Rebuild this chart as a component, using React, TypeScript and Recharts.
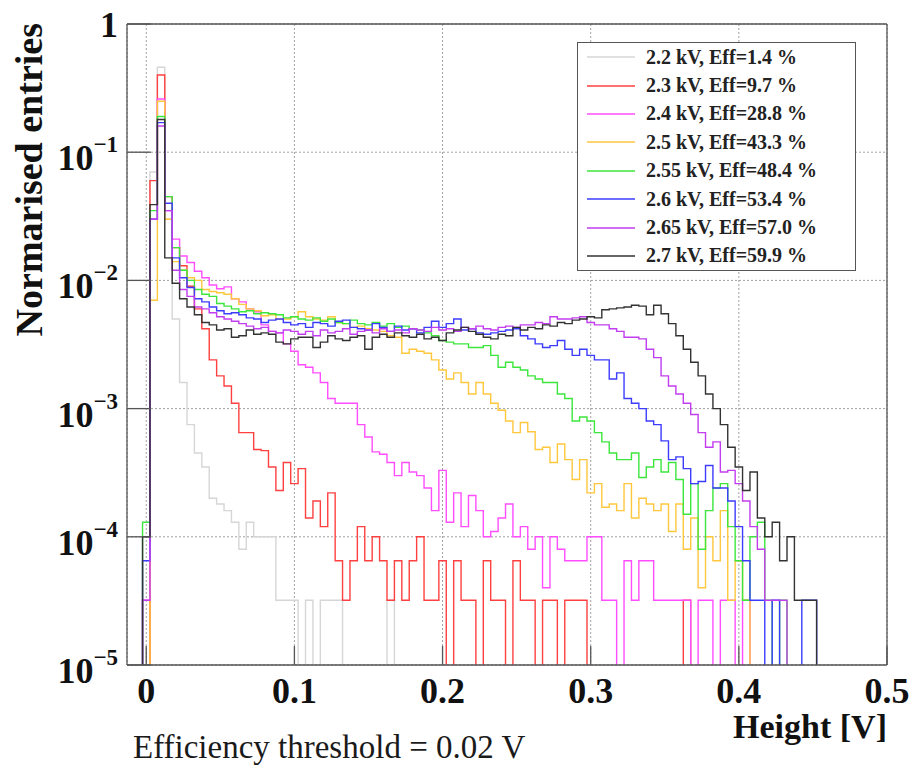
import React from 'react';
import { LineChart, Line, XAxis, YAxis, CartesianGrid } from 'recharts';

const W = 915;
const H = 766;
// two 1px axes on each side, so the plot box lands at 127..887 x 24..665
const MARGIN = { top: 22, right: 26, bottom: 99, left: 125 };
const FONT = "'Liberation Serif', 'Times New Roman', serif";

// histogram binning (bin 0 is centred on 0 V)
const BIN_W = 0.005;
const FIRST_EDGE = -0.0025;
const EMPTY = 1e-7; // empty bins fall below the log axis

const X_MAJOR = [0, 0.1, 0.2, 0.3, 0.4, 0.5];
const X_MINOR = [0.02, 0.04, 0.06, 0.08, 0.12, 0.14, 0.16, 0.18, 0.22, 0.24, 0.26, 0.28, 0.32, 0.34, 0.36, 0.38, 0.42, 0.44, 0.46, 0.48];
const Y_MAJOR = [1e-5, 1e-4, 1e-3, 1e-2, 1e-1, 1];
const Y_MINOR = [1e-5, 1e-4, 1e-3, 1e-2, 1e-1].flatMap(d => [2, 3, 4, 5, 6, 7, 8, 9].map(m => m * d));

const h22 = [0, 0.07, 0.46, 0.03, 0.005, 0.0016, 7.5e-4, 4.5e-4, 3.5e-4, 2e-4,
  1.8e-4, 1.6e-4, 1.3e-4, 8e-5, 1.3e-4, 1e-4, 1e-4, 1e-4, 3.2e-5, 3.2e-5,
  3.2e-5, 0, 3.2e-5, 0, 3.2e-5, 3.2e-5, 3.2e-5, 0, 0, 0,
  0, 0, 0, 3.2e-5];

const h23 = [0, 0.06, 0.4, 0.045, 0.018, 0.013, 0.009, 0.006, 0.0042, 0.0024,
  0.0018, 0.0015, 0.0011, 6.5e-4, 6.5e-4, 4.8e-4, 4.7e-4, 3.5e-4, 2.3e-4, 3.8e-4,
  2.6e-4, 3.4e-4, 1.4e-4, 1.9e-4, 1.2e-4, 2.2e-4, 6.5e-5, 3.2e-5, 6.5e-5, 1.2e-4,
  6.5e-5, 1e-4, 6.5e-5, 3.2e-5, 6.5e-5, 3.2e-5, 6.5e-5, 1e-4, 3.2e-5, 3.2e-5,
  6.5e-5, 0, 6.5e-5, 3.2e-5, 3.2e-5, 0, 6.5e-5, 3.2e-5, 3.2e-5, 0,
  6.5e-5, 3.2e-5, 3.2e-5, 0, 3.2e-5, 3.2e-5, 0, 3.2e-5, 3.2e-5, 3.2e-5,
  0, 0, 0, 0, 0, 0, 0, 0, 0, 0,
  0, 0, 0, 3.2e-5];

const h24 = [3.2e-5, 0.03, 0.26, 0.035, 0.021, 0.0155, 0.0138, 0.0118, 0.0105, 0.0092,
  0.0086, 0.0089, 0.0072, 0.0068, 0.006, 0.0057, 0.0045, 0.004, 0.0039, 0.0032,
  0.0028, 0.0022, 0.0021, 0.0019, 0.0016, 0.0012, 0.0011, 0.0011, 0.0011, 7.5e-4,
  6e-4, 4.6e-4, 4.4e-4, 3.8e-4, 3e-4, 3.8e-4, 3.2e-4, 3e-4, 2.4e-4, 1.6e-4,
  3.3e-4, 1.3e-4, 2.2e-4, 1.2e-4, 2.1e-4, 1.6e-4, 1e-4, 1.1e-4, 1.4e-4, 1.8e-4,
  1e-4, 1.2e-4, 8e-5, 1e-4, 4e-5, 1e-4, 8e-5, 6.5e-5, 6.5e-5, 6.5e-5,
  1e-4, 1e-4, 3.2e-5, 3.2e-5, 0, 6.5e-5, 3.2e-5, 6.5e-5, 6.5e-5, 3.2e-5,
  3.2e-5, 3.2e-5, 3.2e-5, 3.2e-5, 0, 3.2e-5, 3.2e-5, 0, 3.2e-5, 3.2e-5,
  0, 3.2e-5];

const h25 = [0, 0.007, 0.25, 0.03, 0.014, 0.012, 0.0105, 0.01, 0.0085, 0.0082,
  0.008, 0.0078, 0.0072, 0.0065, 0.006, 0.0058, 0.0053, 0.0054, 0.005, 0.005,
  0.0052, 0.0057, 0.0052, 0.005, 0.0049, 0.0052, 0.0047, 0.0046, 0.0043, 0.0044,
  0.0042, 0.0041, 0.004, 0.0037, 0.0036, 0.0027, 0.0029, 0.0028, 0.0027, 0.0024,
  0.002, 0.0017, 0.0019, 0.0016, 0.0013, 0.0016, 0.0013, 0.0011, 9.7e-4, 8e-4,
  6.5e-4, 7.8e-4, 6.6e-4, 4.8e-4, 5e-4, 3.8e-4, 5.3e-4, 4e-4, 2.8e-4, 4e-4,
  2.2e-4, 2.6e-4, 1.7e-4, 1.8e-4, 1.6e-4, 2.6e-4, 1.4e-4, 2e-4, 1.8e-4, 1.6e-4,
  1.8e-4, 1.1e-4, 1.8e-4, 8e-5, 1.4e-4, 4e-5, 1e-4, 6.5e-5, 1.6e-4, 3.2e-5,
  6.5e-5, 3.2e-5];

const h255 = [1.3e-4, 0.035, 0.19, 0.045, 0.018, 0.012, 0.01, 0.0085, 0.0078, 0.0075,
  0.0066, 0.0063, 0.006, 0.0057, 0.0058, 0.0055, 0.0056, 0.0055, 0.0054, 0.0051,
  0.0052, 0.005, 0.0049, 0.0051, 0.0048, 0.005, 0.0047, 0.0046, 0.0049, 0.0046,
  0.0045, 0.0047, 0.0044, 0.0046, 0.0043, 0.0044, 0.0042, 0.0041, 0.0039, 0.0037,
  0.0034, 0.0033, 0.0032, 0.0032, 0.003, 0.003, 0.0031, 0.0026, 0.0021, 0.0023,
  0.0021, 0.002, 0.0018, 0.0017, 0.0016, 0.0016, 0.0013, 0.0012, 8e-4, 8.6e-4,
  8e-4, 6.5e-4, 5.5e-4, 4.5e-4, 4e-4, 4e-4, 4.5e-4, 2.9e-4, 3.5e-4, 4e-4,
  3.2e-4, 3.8e-4, 2.8e-4, 1.5e-4, 2.6e-4, 8e-5, 1.6e-4, 2.4e-4, 2.6e-4, 1.2e-4,
  6.5e-5, 3.2e-5, 1e-4, 1.3e-4, 3.2e-5, 0, 3.2e-5];

const h26 = [6.5e-5, 0.03, 0.17, 0.04, 0.015, 0.0105, 0.0088, 0.0072, 0.0068, 0.0062,
  0.0058, 0.0055, 0.0056, 0.0054, 0.0051, 0.005, 0.0047, 0.0049, 0.005, 0.0047,
  0.0045, 0.0046, 0.0043, 0.0047, 0.0046, 0.0044, 0.0048, 0.0049, 0.0043, 0.0042,
  0.0041, 0.0046, 0.0043, 0.004, 0.0044, 0.0041, 0.0042, 0.0039, 0.0043, 0.0048,
  0.0043, 0.0046, 0.005, 0.0041, 0.0042, 0.0039, 0.0038, 0.0039, 0.004, 0.0041,
  0.0042, 0.0037, 0.0035, 0.0032, 0.003, 0.0031, 0.0034, 0.0029, 0.0026, 0.0029,
  0.0026, 0.0024, 0.0024, 0.0017, 0.0019, 0.0012, 0.0011, 0.001, 8e-4, 7.5e-4,
  5.6e-4, 4e-4, 4.2e-4, 3.4e-4, 2.6e-4, 2.7e-4, 3.6e-4, 2.4e-4, 2.4e-4, 1.9e-4,
  1.2e-4, 6.5e-5, 3.2e-5, 3.2e-5, 0, 3.2e-5, 0, 0, 0, 3.2e-5,
  3.2e-5];

const h265 = [3.2e-5, 0.03, 0.16, 0.035, 0.012, 0.0085, 0.0075, 0.0062, 0.006, 0.0056,
  0.0052, 0.005, 0.0048, 0.0046, 0.0044, 0.0042, 0.0043, 0.004, 0.0039, 0.0041,
  0.004, 0.0038, 0.004, 0.0037, 0.0041, 0.0039, 0.004, 0.0042, 0.0038, 0.004,
  0.0041, 0.0039, 0.0042, 0.004, 0.0041, 0.0039, 0.0042, 0.0041, 0.004, 0.0043,
  0.0041, 0.0042, 0.004, 0.0043, 0.0042, 0.0044, 0.0042, 0.0041, 0.0043, 0.0044,
  0.0043, 0.0045, 0.0045, 0.0047, 0.0046, 0.0052, 0.005, 0.005, 0.0051, 0.0052,
  0.0047, 0.0045, 0.0045, 0.0042, 0.004, 0.0036, 0.0036, 0.0035, 0.0029, 0.0025,
  0.0018, 0.0015, 0.0013, 0.0011, 9e-4, 6.5e-4, 5e-4, 5.5e-4, 3.2e-4, 3.3e-4,
  2.6e-4, 1.9e-4, 1.2e-4, 8e-5, 3.2e-5, 3.2e-5, 3.2e-5];

const h27 = [1e-4, 0.039, 0.18, 0.015, 0.0095, 0.0072, 0.0062, 0.0054, 0.0047, 0.0045,
  0.0041, 0.0042, 0.0036, 0.0037, 0.0041, 0.0038, 0.0039, 0.0038, 0.0033, 0.0032,
  0.0035, 0.0036, 0.0036, 0.003, 0.0033, 0.0037, 0.0035, 0.0034, 0.0036, 0.0037,
  0.0029, 0.0036, 0.0038, 0.0036, 0.0039, 0.0037, 0.0036, 0.0038, 0.0035, 0.0036,
  0.0034, 0.0039, 0.0041, 0.0043, 0.004, 0.0038, 0.0036, 0.0035, 0.0038, 0.0037,
  0.0043, 0.0041, 0.0043, 0.0042, 0.0045, 0.0044, 0.0047, 0.0046, 0.0049, 0.005,
  0.0052, 0.0051, 0.0059, 0.006, 0.0061, 0.0062, 0.0064, 0.0063, 0.0054, 0.0064,
  0.0055, 0.0046, 0.0037, 0.0029, 0.0023, 0.0018, 0.0013, 0.001, 7.5e-4, 5e-4,
  3.5e-4, 2.3e-4, 3.2e-4, 1.4e-4, 1e-4, 1.3e-4, 6.5e-5, 1e-4, 3.2e-5, 3.2e-5,
  3.2e-5];

const SERIES = [
  { key: 'v22', label: '2.2 kV, Eff=1.4 %', color: '#d6d6d6', values: h22 },
  { key: 'v23', label: '2.3 kV, Eff=9.7 %', color: '#ff4040', values: h23 },
  { key: 'v24', label: '2.4 kV, Eff=28.8 %', color: '#ff4dff', values: h24 },
  { key: 'v25', label: '2.5 kV, Eff=43.3 %', color: '#ffc83c', values: h25 },
  { key: 'v255', label: '2.55 kV, Eff=48.4 %', color: '#3ce63c', values: h255 },
  { key: 'v26', label: '2.6 kV, Eff=53.4 %', color: '#3c3cff', values: h26 },
  { key: 'v265', label: '2.65 kV, Eff=57.0 %', color: '#c23cf0', values: h265 },
  { key: 'v27', label: '2.7 kV, Eff=59.9 %', color: '#333333', values: h27 },
];

// rows at the lower bin edges, for stepAfter drawing
const N_BINS = Math.max(...SERIES.map(s => s.values.length)) + 1;
const rows = [];
for (let i = -1; i <= N_BINS; i++) {
  const row = { x: FIRST_EDGE + i * BIN_W };
  SERIES.forEach(s => {
    const v = i >= 0 && i < s.values.length ? s.values[i] : 0;
    row[s.key] = v > 0 ? v : EMPTY;
  });
  rows.push(row);
}

const XTick = ({ x, y, payload }) => (
  <text x={x} y={y} textAnchor="middle" fontFamily={FONT} fontWeight="bold" fontSize={36} fill="#111">
    {payload.value}
  </text>
);

const YTick = ({ x, y, payload }) => {
  const v = payload.value;
  if (v === 1) {
    return (
      <text x={x} y={y + 13} textAnchor="end" fontFamily={FONT} fontWeight="bold" fontSize={36} fill="#111">1</text>
    );
  }
  const k = Math.round(-Math.log10(v));
  return (
    <text x={x} y={y + 18} textAnchor="end" fontFamily={FONT} fontWeight="bold" fill="#111">
      <tspan fontSize={36}>10</tspan>
      <tspan fontSize={23} dy={-18}>{'\u2212' + k}</tspan>
    </text>
  );
};

const X_DOMAIN = [-0.013, 0.5];
const Y_DOMAIN = [1e-5, 1];
const AXIS = '#555';

export default function App() {
  return (
    <div style={{ position: 'absolute', left: 0, top: 0, width: W, height: H, background: '#fff' }}>
      <LineChart width={W} height={H} data={rows} margin={MARGIN}>
        <CartesianGrid xAxisId="x" yAxisId="y" stroke="#a0a0a0" strokeDasharray="2 2" />
        <XAxis xAxisId="x" dataKey="x" type="number" domain={X_DOMAIN} allowDataOverflow ticks={X_MAJOR}
          interval={0} height={1} tickSize={-19} tickMargin={57} tick={<XTick />} stroke={AXIS} strokeWidth={1.3} />
        <XAxis xAxisId="xMinor" dataKey="x" type="number" domain={X_DOMAIN} allowDataOverflow ticks={X_MINOR}
          interval={0} height={1} tickSize={-10} tick={false} axisLine={false} stroke={AXIS} />
        <XAxis xAxisId="xTop" orientation="top" dataKey="x" type="number" domain={X_DOMAIN} allowDataOverflow ticks={X_MAJOR}
          interval={0} height={1} tickSize={-19} tick={false} stroke={AXIS} strokeWidth={1.3} />
        <XAxis xAxisId="xTopMinor" orientation="top" dataKey="x" type="number" domain={X_DOMAIN} allowDataOverflow ticks={X_MINOR}
          interval={0} height={1} tickSize={-10} tick={false} axisLine={false} stroke={AXIS} />
        <YAxis yAxisId="y" scale="log" type="number" domain={Y_DOMAIN} allowDataOverflow ticks={Y_MAJOR}
          interval={0} width={1} tickSize={-24} tickMargin={33} tick={<YTick />} stroke={AXIS} strokeWidth={1.3} />
        <YAxis yAxisId="yMinor" scale="log" type="number" domain={Y_DOMAIN} allowDataOverflow ticks={Y_MINOR}
          interval={0} width={1} tickSize={-12} tick={false} axisLine={false} stroke={AXIS} />
        <YAxis yAxisId="yRight" orientation="right" scale="log" type="number" domain={Y_DOMAIN} allowDataOverflow ticks={Y_MAJOR}
          interval={0} width={1} tickSize={-24} tick={false} stroke={AXIS} strokeWidth={1.3} />
        <YAxis yAxisId="yRightMinor" orientation="right" scale="log" type="number" domain={Y_DOMAIN} allowDataOverflow ticks={Y_MINOR}
          interval={0} width={1} tickSize={-14} tick={false} axisLine={false} stroke={AXIS} />
        {SERIES.map(s => (
          <Line key={s.key} xAxisId="x" yAxisId="y" type="stepAfter" dataKey={s.key} stroke={s.color}
            strokeWidth={1.4} dot={false} activeDot={false} isAnimationActive={false} />
        ))}
      </LineChart>

      <svg width={W} height={H} style={{ position: 'absolute', left: 0, top: 0, pointerEvents: 'none' }}>
        <text transform="translate(42, 23) rotate(-90)" textAnchor="end" fontFamily={FONT} fontWeight="bold"
          fontSize={38} fill="#111">Normarised entries</text>
        <text x={887} y={738} textAnchor="end" fontFamily={FONT} fontWeight="bold" fontSize={34} fill="#111">Height [V]</text>
        <text x={133} y={758} fontFamily={FONT} fontSize={33} fill="#1a1a1a">Efficiency threshold = 0.02 V</text>
      </svg>

      <div style={{
        position: 'absolute', left: 577, top: 42, width: 279, height: 229, boxSizing: 'border-box',
        border: '1.5px solid #555', background: '#fff',
      }}>
        {SERIES.map(s => (
          <div key={s.key} style={{ display: 'flex', alignItems: 'center', height: 28.4 }}>
            <div style={{ marginLeft: 9, width: 48, height: 2, background: s.color, opacity: 0.75 }} />
            <span style={{ marginLeft: 11, fontFamily: FONT, fontWeight: 'bold', fontSize: 20, color: '#222', whiteSpace: 'pre' }}>
              {s.label}
            </span>
          </div>
        ))}
      </div>
    </div>
  );
}
